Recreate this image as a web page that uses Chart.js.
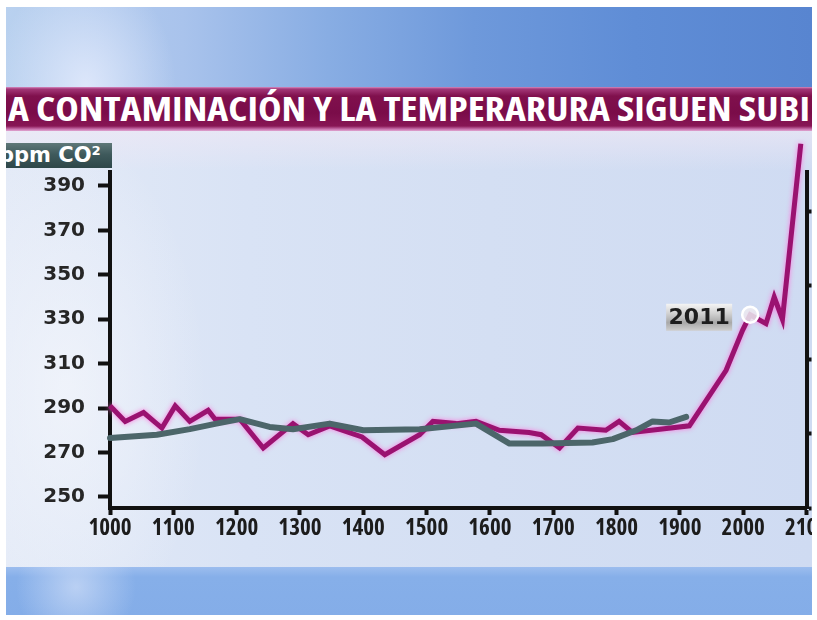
<!DOCTYPE html>
<html>
<head>
<meta charset="utf-8">
<script src="https://cdn.jsdelivr.net/npm/chart.js@4.4.1/dist/chart.umd.min.js"></script>
<style>
  html, body { margin:0; padding:0; width:817px; height:620px; overflow:hidden; background:#fff; }
  .abs { position:absolute; }
  #sky { left:6px; top:7px; width:806px; height:80px;
    background:
      radial-gradient(ellipse 90px 120px at 80px 80px, rgba(235,240,255,0.75), rgba(235,240,255,0) 100%),
      linear-gradient(90deg, #b9d1ef 0%, #a9c3ec 22%, #88ade3 40%, #6e99db 58%, #5f8dd6 78%, #5885d0 100%); }
  #band { left:6px; top:87px; width:806px; height:44px; overflow:hidden;
    background: linear-gradient(180deg, #d58bc0 0px, #a33878 2px, #80104d 9px, #7a0c49 26px, #881655 39px, #c66ca8 42px, #e0a6d2 44px); }
  #title { position:absolute; left:2px; top:4px; white-space:nowrap; color:#fff;
    font-family:"Open Sans","Liberation Sans",sans-serif; font-stretch:75%;
    font-weight:bold; font-size:33px; line-height:36px; transform-origin:0 0; }
  #plotbg { left:6px; top:131px; width:806px; height:436px;
    background:
      radial-gradient(ellipse 140px 260px at 60px 260px, rgba(245,247,252,0.7), rgba(245,247,252,0) 100%),
      linear-gradient(180deg, rgba(240,232,245,0.6) 0px, rgba(240,232,245,0) 40px),
      linear-gradient(90deg, #e3eaf7 0%, #d9e3f5 30%, #d4dff3 60%, #cfdbf2 100%); }
  #bottom { left:6px; top:567px; width:806px; height:48px;
    background:
      radial-gradient(ellipse 60px 60px at 70px 20px, rgba(220,230,250,0.6), rgba(220,230,250,0) 100%),
      linear-gradient(180deg, #9cbdee 0px, #86afe9 10px, #84ade8 100%); }
  #unit { left:6px; top:143px; width:106px; height:25px; overflow:hidden;
    background: linear-gradient(180deg, #5f7878 0%, #3f5a5c 45%, #2e4749 100%); }
  #unit span { position:absolute; left:-7px; top:0px; color:#fff; font-family:"DejaVu Sans", sans-serif; font-weight:bold; font-size:21px; line-height:25px; white-space:nowrap; }
  canvas#c { position:absolute; left:0; top:0; }
  .frame { position:absolute; background:#fff; pointer-events:none; }
</style>
</head>
<body>
<div id="sky" class="abs"></div>
<div id="band" class="abs"><span id="title">A CONTAMINACIÓN Y LA TEMPERARURA SIGUEN SUBI</span></div>
<div id="plotbg" class="abs"></div>
<div id="bottom" class="abs"></div>
<div id="unit" class="abs"><span>ppm CO²</span></div>
<canvas id="c" width="817" height="620"></canvas>
<div class="frame" style="left:0;top:0;width:817px;height:7px"></div>
<div class="frame" style="left:0;top:0;width:6px;height:620px"></div>
<div class="frame" style="left:812px;top:0;width:5px;height:620px"></div>
<div class="frame" style="left:0;top:615px;width:817px;height:5px"></div>
<script>
// ---- data ----
const co2Years  = [1000, 1024, 1053, 1082, 1103, 1126, 1155, 1166, 1205, 1242, 1289, 1313, 1347, 1398, 1434, 1489, 1510, 1547, 1578, 1615, 1662, 1681, 1710, 1739, 1783, 1804, 1825, 1915, 1973, 1999, 2011, 2036, 2049, 2062, 2091];
const co2Values = [291, 284, 288, 281, 291, 284, 289, 285, 285, 272, 283, 278, 282, 277, 269, 278, 284, 283, 284, 280, 279, 278, 272, 281, 280, 284, 279, 282, 307, 325, 332, 328, 340, 330, 409];
const tempYears  = [1000, 1074, 1126, 1168, 1205, 1252, 1289, 1347, 1400, 1489, 1578, 1631, 1683, 1762, 1794, 1831, 1857, 1883, 1910];
const tempValues = [276.5, 278, 280.5, 283, 285, 281.5, 280.5, 283, 280, 280.5, 283, 274, 274, 274.5, 276, 280, 284, 283.5, 286];
const markerYears  = [2011];
const markerValues = [332];
const markerLabels = ['2011'];
const yTicks = [250, 270, 290, 310, 330, 350, 370, 390];
const xTicks = [1000, 1100, 1200, 1300, 1400, 1500, 1600, 1700, 1800, 1900, 2000, 2100];
const rightTicks = [0, 1, 2, 3, 4];

// fit title text to the visible band width
function fitTitle() {
  const t = document.getElementById('title');
  t.style.transform = 'none';
  const w = t.getBoundingClientRect().width;
  if (w > 0) t.style.transform = 'scaleX(' + (802 / w) + ')';
}
fitTitle();
if (document.fonts && document.fonts.ready) document.fonts.ready.then(fitTitle);

const pts = (xs, ys) => xs.map((x, i) => ({x: x, y: ys[i]}));

const glowPlugin = {
  id: 'glow',
  beforeDatasetDraw(chart, args) {
    const ds = chart.data.datasets[args.index];
    if (ds.glow) {
      chart.ctx.save();
      chart.ctx.shadowColor = ds.glow;
      chart.ctx.shadowBlur = 5;
    }
  },
  afterDatasetDraw(chart, args) {
    const ds = chart.data.datasets[args.index];
    if (ds.glow) chart.ctx.restore();
  }
};

const labelPlugin = {
  id: 'markerLabel',
  afterDatasetsDraw(chart) {
    const meta = chart.getDatasetMeta(0);
    const ctx = chart.ctx;
    meta.data.forEach((pt, i) => {
      const txt = markerLabels[i];
      const h = 27, w = 66;
      const right = pt.x - 18, top = pt.y - 11;
      const left = right - w;
      const g = ctx.createLinearGradient(0, top, 0, top + h);
      g.addColorStop(0, '#f4f4f4');
      g.addColorStop(0.35, '#d2d2d2');
      g.addColorStop(0.7, '#a8a8a8');
      g.addColorStop(1, '#cfcfcf');
      ctx.save();
      ctx.fillStyle = g;
      ctx.fillRect(left, top, w, h);
      ctx.fillStyle = '#1e1e1e';
      ctx.font = 'bold 22px "DejaVu Sans", sans-serif';
      ctx.textAlign = 'center';
      ctx.textBaseline = 'middle';
      ctx.fillText(txt, left + w / 2, top + h / 2 + 1);
      ctx.restore();
    });
  }
};

new Chart(document.getElementById('c'), {
  type: 'line',
  data: {
    datasets: [
      {
        label: 'marker',
        data: pts(markerYears, markerValues),
        showLine: false,
        pointRadius: 8,
        pointBackgroundColor: 'rgba(235,235,240,0.85)',
        pointBorderColor: '#ffffff',
        pointBorderWidth: 2.5,
        clip: false
      },
      {
        label: 'Temperatura',
        data: pts(tempYears, tempValues),
        borderColor: '#4c666a',
        borderWidth: 6,
        pointRadius: 0,
        tension: 0,
        borderJoinStyle: 'round',
        borderCapStyle: 'round',
        clip: false
      },
      {
        label: 'ppm CO²',
        data: pts(co2Years, co2Values),
        borderColor: '#9a1270',
        borderWidth: 5,
        pointRadius: 0,
        tension: 0,
        borderJoinStyle: 'miter',
        glow: 'rgba(255,110,220,0.9)',
        clip: false
      }
    ]
  },
  options: {
    responsive: false,
    animation: false,
    devicePixelRatio: 1,
    layout: { padding: { top: 172, left: 0, right: 0, bottom: 0 } },
    plugins: { legend: { display: false }, tooltip: { enabled: false }, title: { display: false } },
    scales: {
      x: {
        type: 'linear',
        min: 1000, max: 2100,
        afterBuildTicks: s => { s.ticks = xTicks.map(v => ({value: v})); },
        afterFit: s => { s.height = 112; s.paddingLeft = 0; s.paddingRight = 0; },
        border: { display: true, color: '#111', width: 4 },
        grid: { drawOnChartArea: false, drawTicks: true, tickLength: 7, tickWidth: 4, tickColor: '#111' },
        ticks: {
          autoSkip: false, maxRotation: 0, padding: 0,
          color: '#1c1c1c',
          font: { family: '"Open Sans","Liberation Sans",sans-serif', size: 23, weight: 'bold condensed' },
          callback: v => String(v)
        }
      },
      y: {
        position: 'left',
        min: 245, max: 396.3,
        afterBuildTicks: s => { s.ticks = yTicks.map(v => ({value: v})); },
        afterFit: s => { s.width = 110; s.paddingTop = 0; s.paddingBottom = 0; },
        border: { display: true, color: '#111', width: 4 },
        grid: { drawOnChartArea: false, drawTicks: true, tickLength: 12, tickWidth: 4, tickColor: '#111' },
        ticks: {
          padding: 13,
          color: '#262626',
          font: { family: '"DejaVu Sans", sans-serif', size: 20, weight: 'bold' },
          callback: v => String(v)
        }
      },
      y2: {
        position: 'right',
        min: 0, max: 4.54,
        afterBuildTicks: s => { s.ticks = rightTicks.map(v => ({value: v})); },
        afterFit: s => { s.width = 10; s.paddingTop = 0; s.paddingBottom = 0; },
        border: { display: true, color: '#111', width: 4 },
        grid: { drawOnChartArea: false, drawTicks: true, tickLength: 5, tickWidth: 4, tickColor: '#111' },
        ticks: { display: false }
      }
    }
  },
  plugins: [glowPlugin, labelPlugin]
});
</script>
</body>
</html>
